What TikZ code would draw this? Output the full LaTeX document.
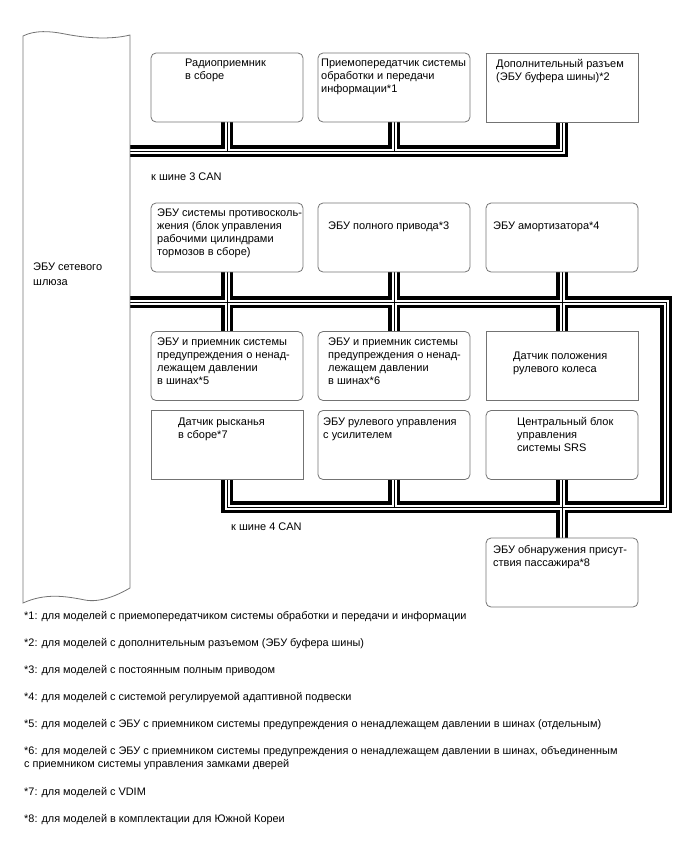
\documentclass[tikz,border=0pt]{standalone}
\usepackage{fontspec}
\setmainfont{Liberation Sans}
\usetikzlibrary{positioning,calc,backgrounds}

\tikzset{
  ecu/.style={draw=black!55, line width=0.8pt, rounded corners=5pt,
    minimum width=152pt, minimum height=69pt, inner sep=0pt},
  ecusq/.style={ecu, sharp corners},
  boxtext/.style={anchor=north west, inner sep=0pt, align=left,
    font=\fontsize{11}{13}\selectfont},
  busnote/.style={anchor=west, inner sep=0pt, font=\fontsize{11}{13}\selectfont},
  fnote/.style={anchor=north west, inner sep=0pt, align=left,
    font=\fontsize{10.9}{13}\selectfont},
}

\begin{document}
\begin{tikzpicture}[x=1pt, y=-1pt]
  \useasboundingbox (0,0) rectangle (688,852);

  % gateway ECU (scroll)
  \draw[draw=black!55, line width=0.8pt]
    (23,36) .. controls (35,30) and (50,31) .. (65,34)
    .. controls (85,38) and (110,40) .. (130,35) -- (130,588)
    .. controls (118,595) and (100,603) .. (85,600)
    .. controls (65,596) and (45,593) .. (23,603) -- cycle;
  \node[boxtext, font=\fontsize{11}{15}\selectfont] (gwtxt) at (33,263) {ЭБУ сетевого\\шлюза};

  % CAN 3 row
  \node[ecu] (radio) at (227,87.5) {};
  \node[ecu] (trans) at (394,87.5) {};
  \node[ecusq] (dop) at (562,87.5) {};
  \node[boxtext] (radiotxt) at (185,59) {Радиоприемник\\в сборе};
  \node[boxtext] (transtxt) at (321,59) {Приемопередатчик системы\\обработки и передачи\\информации*1};
  \node[boxtext] (doptxt) at (496,59) {Дополнительный разъем\\(ЭБУ буфера шины)*2};

  % CAN 4 rows
  \node[ecu] (abs) at (227,237.5) {};
  \node[ecu] (awd) at (394,237.5) {};
  \node[ecu] (damp) at (562,237.5) {};
  \node[boxtext] (abstxt) at (157,209) {ЭБУ системы противосколь-\\жения (блок управления\\рабочими цилиндрами\\тормозов в сборе)};
  \node[boxtext] (awdtxt) at (328,222) {ЭБУ полного привода*3};
  \node[boxtext] (damptxt) at (493,222) {ЭБУ амортизатора*4};

  \node[ecu] (tpmsa) at (227,366) {};
  \node[ecu] (tpmsb) at (394,366) {};
  \node[ecusq] (sas) at (562,366) {};
  \node[boxtext] (tpmsatxt) at (157,338) {ЭБУ и приемник системы\\предупреждения о ненад-\\лежащем давлении\\в шинах*5};
  \node[boxtext] (tpmsbtxt) at (328,338) {ЭБУ и приемник системы\\предупреждения о ненад-\\лежащем давлении\\в шинах*6};
  \node[boxtext] (sastxt) at (513,352) {Датчик положения\\рулевого колеса};

  \node[ecusq] (yaw) at (227,445) {};
  \node[ecu] (eps) at (394,445) {};
  \node[ecu] (srs) at (562,445) {};
  \node[boxtext] (yawtxt) at (178,418) {Датчик рысканья\\в сборе*7};
  \node[boxtext] (epstxt) at (323,418) {ЭБУ рулевого управления\\с усилителем};
  \node[boxtext] (srstxt) at (517,417) {Центральный блок\\управления\\системы SRS};

  \node[ecu] (occ) at (562,572.5) {};
  \node[boxtext] (occtxt) at (493,545) {ЭБУ обнаружения присут-\\ствия пассажира*8};

  % bus labels
  \node[busnote] (can3) at (151,177) {к шине 3 CAN};
  \node[busnote] (can4) at (231,527) {к шине 4 CAN};

  % buses
  \coordinate (c3w) at (130,151);
  \coordinate (c4w) at (130,302);
  \coordinate (c4ne) at (666,302);
  \coordinate (c4se) at (666,507);
  \begin{scope}[on background layer]
    \foreach \w/\c in {12/black, 5/white, 1/black} {
      \begin{scope}[line width=\w pt, draw=\c, line join=miter]
        % CAN 3
        \draw (c3w) -- (c3w -| dop.south) -- (dop.south);
        \draw (radio.south) -- (radio.south |- c3w);
        \draw (trans.south) -- (trans.south |- c3w);
        % CAN 4
        \draw (c4w) -- (c4ne) -- (c4se) -- (c4se -| yaw.south) -- (yaw.south);
        \draw (abs.south) -- (tpmsa.north);
        \draw (awd.south) -- (tpmsb.north);
        \draw (damp.south) -- (sas.north);
        \draw (eps.south) -- (eps.south |- c4se);
        \draw (srs.south) -- (occ.north);
      \end{scope}
    }
  \end{scope}

  % footnotes
  \node[fnote] (fn1) at (24,611) {*1: для моделей с приемопередатчиком системы обработки и передачи и информации};
  \node[fnote] (fn2) at (24,638) {*2: для моделей с дополнительным разъемом (ЭБУ буфера шины)};
  \node[fnote] (fn3) at (24,665) {*3: для моделей с постоянным полным приводом};
  \node[fnote] (fn4) at (24,692) {*4: для моделей с системой регулируемой адаптивной подвески};
  \node[fnote] (fn5) at (24,719) {*5: для моделей с ЭБУ с приемником системы предупреждения о ненадлежащем давлении в шинах (отдельным)};
  \node[fnote] (fn6) at (24,746) {*6: для моделей с ЭБУ с приемником системы предупреждения о ненадлежащем давлении в шинах, объединенным\\с приемником системы управления замками дверей};
  \node[fnote] (fn7) at (24,787) {*7: для моделей с VDIM};
  \node[fnote] (fn8) at (24,814) {*8: для моделей в комплектации для Южной Кореи};
\end{tikzpicture}
\end{document}
